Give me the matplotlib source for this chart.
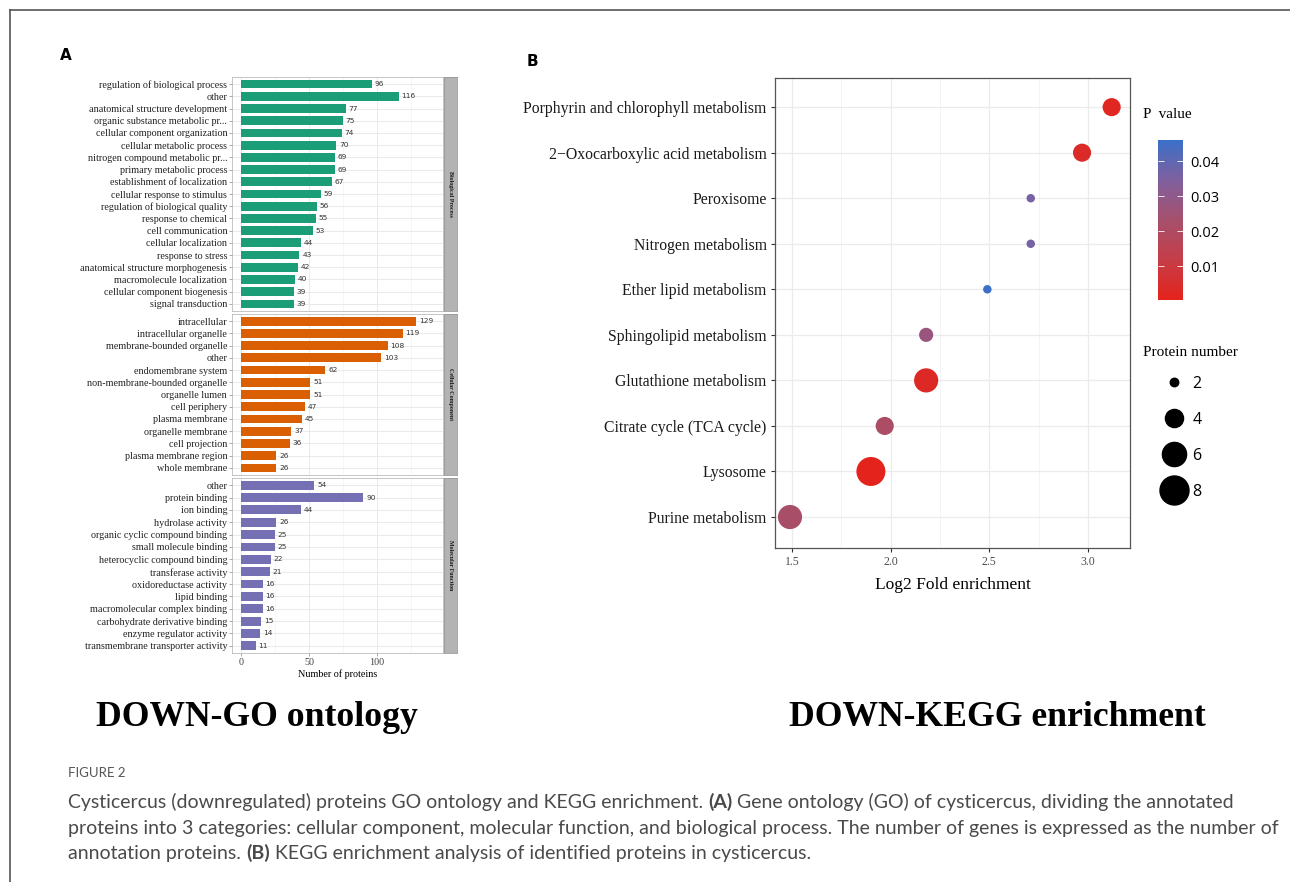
# DOWN-GO ontology bars + DOWN-KEGG enrichment bubbles
import numpy as np
import matplotlib.pyplot as plt
import matplotlib.colors as mcolors
from matplotlib.lines import Line2D

W, H = 1290, 882

# GO terms, top to bottom inside each facet
bp_terms = ["regulation of biological process", "other", "anatomical structure development",
            "organic substance metabolic pr...", "cellular component organization",
            "cellular metabolic process", "nitrogen compound metabolic pr...",
            "primary metabolic process", "establishment of localization",
            "cellular response to stimulus", "regulation of biological quality",
            "response to chemical", "cell communication", "cellular localization",
            "response to stress", "anatomical structure morphogenesis",
            "macromolecule localization", "cellular component biogenesis", "signal transduction"]
bp_counts = [96, 116, 77, 75, 74, 70, 69, 69, 67, 59, 56, 55, 53, 44, 43, 42, 40, 39, 39]

cc_terms = ["intracellular", "intracellular organelle", "membrane-bounded organelle", "other",
            "endomembrane system", "non-membrane-bounded organelle", "organelle lumen",
            "cell periphery", "plasma membrane", "organelle membrane", "cell projection",
            "plasma membrane region", "whole membrane"]
cc_counts = [129, 119, 108, 103, 62, 51, 51, 47, 45, 37, 36, 26, 26]

mf_terms = ["other", "protein binding", "ion binding", "hydrolase activity",
            "organic cyclic compound binding", "small molecule binding",
            "heterocyclic compound binding", "transferase activity", "oxidoreductase activity",
            "lipid binding", "macromolecular complex binding", "carbohydrate derivative binding",
            "enzyme regulator activity", "transmembrane transporter activity"]
mf_counts = [54, 90, 44, 26, 25, 25, 22, 21, 16, 16, 16, 15, 14, 11]

# KEGG pathways, bottom to top
kegg_terms = ["Purine metabolism", "Lysosome", "Citrate cycle (TCA cycle)",
              "Glutathione metabolism", "Sphingolipid metabolism", "Ether lipid metabolism",
              "Nitrogen metabolism", "Peroxisome", "2\u2212Oxocarboxylic acid metabolism",
              "Porphyrin and chlorophyll metabolism"]
kegg_fold = [1.49, 1.90, 1.97, 2.18, 2.18, 2.49, 2.71, 2.71, 2.97, 3.12]
kegg_p = [0.022, 0.0005, 0.021, 0.003, 0.027, 0.046, 0.036, 0.036, 0.004, 0.002]
kegg_n = [6, 8, 4, 6, 3, 2, 2, 2, 4, 4]
size_breaks = [2, 4, 6, 8]
p_ticks = [0.01, 0.02, 0.03, 0.04]

SERIF = ["Liberation Serif", "DejaVu Serif"]
SANS = ["DejaVu Sans"]


def px_axes(x0, y0, x1, y1, **kw):
    return fig.add_axes([x0 / W, 1 - y1 / H, (x1 - x0) / W, (y1 - y0) / H], **kw)


def dot_size(v):
    # ggplot style: area grows linearly with the value
    d_px = np.sqrt(72 + (np.asarray(v) - 2) / 6 * (841 - 72))
    return d_px * 0.72


fig = plt.figure(figsize=(W / 100, H / 100), dpi=100)

# ---------------- panel A ----------------
facets = [(bp_terms, bp_counts, "#1B9E77", "Biological Process", 77, 311),
          (cc_terms, cc_counts, "#D95F02", "Cellular Component", 314, 475),
          (mf_terms, mf_counts, "#7570B3", "Molecular Function", 478, 653)]

for k, (terms, counts, col, strip, top, bot) in enumerate(facets):
    ax = px_axes(232, top, 443, bot)
    y = np.arange(len(terms))
    ax.barh(y, counts, height=0.72, color=col, zorder=3)
    for yi, v in zip(y, counts):
        ax.text(v + 2, yi, str(v), va="center", ha="left", fontsize=5.3,
                family=SANS, color="#333333", zorder=4)
    ax.set_ylim(len(terms) - 1 + 0.58, -0.58)
    ax.set_xlim(-6.6, 148.5)
    ax.set_yticks(y)
    ax.set_yticklabels(terms, family=SERIF, fontsize=7.3, color="#222222")
    ax.set_xticks([0, 50, 100])
    ax.set_xticks([25, 75, 125], minor=True)
    ax.grid(which="major", color="#E6E6E6", lw=0.6)
    ax.grid(which="minor", axis="x", color="#F0F0F0", lw=0.4)
    ax.set_axisbelow(True)
    ax.tick_params(which="both", length=2, width=0.5, color="#888888", pad=1.5)
    ax.tick_params(which="minor", length=0)
    for s in ax.spines.values():
        s.set_color("#BBBBBB")
        s.set_linewidth(0.6)
    if k < 2:
        ax.tick_params(axis="x", labelbottom=False, bottom=False)
    else:
        for t in ax.get_xticklabels():
            t.set_family(SERIF)
            t.set_fontsize(7.3)
            t.set_color("#444444")
        ax.set_xlabel("Number of proteins", family=SERIF, fontsize=7.3, labelpad=2)

    sax = px_axes(444, top, 457, bot)
    sax.set_facecolor("#B3B3B3")
    sax.set_xticks([])
    sax.set_yticks([])
    for s in sax.spines.values():
        s.set_color("#999999")
        s.set_linewidth(0.6)
    sax.text(0.5, 0.5, strip, rotation=270, ha="center", va="center", fontsize=4.3,
             weight="bold", family=SERIF, color="#1A1A1A", transform=sax.transAxes)

# ---------------- panel B ----------------
cmap = mcolors.LinearSegmentedColormap.from_list(
    "pval", ["#E5231B", "#C53D48", "#A6506C", "#80609E", "#3A70C8"])
norm = mcolors.Normalize(vmin=0.0003, vmax=0.046)

axb = px_axes(775, 78, 1130, 548)
yb = np.arange(len(kegg_terms))
sc = axb.scatter(kegg_fold, yb, s=dot_size(kegg_n) ** 2, c=kegg_p, cmap=cmap, norm=norm,
                 edgecolors="none", zorder=3)
axb.set_xlim(1.414, 3.213)
axb.set_ylim(-0.68, 9.64)
axb.set_yticks(yb)
axb.set_yticklabels(kegg_terms, family=SERIF, fontsize=11.3, color="#1A1A1A")
axb.set_xticks([1.5, 2.0, 2.5, 3.0])
axb.set_xticklabels(["1.5", "2.0", "2.5", "3.0"], family=SERIF, fontsize=8.5, color="#4D4D4D")
axb.set_xticks([1.75, 2.25, 2.75], minor=True)
axb.grid(which="major", color="#EBEBEB", lw=0.9)
axb.grid(which="minor", axis="x", color="#F2F2F2", lw=0.6)
axb.set_axisbelow(True)
axb.tick_params(which="major", length=3, width=0.8, color="#333333", pad=3)
axb.tick_params(which="minor", length=0)
for s in axb.spines.values():
    s.set_color("#555555")
    s.set_linewidth(0.9)
axb.set_xlabel("Log2 Fold enrichment", family=SERIF, fontsize=12.5, labelpad=6)

# colour bar
cax = px_axes(1158, 140, 1183, 300)
cb = fig.colorbar(sc, cax=cax, ticks=p_ticks)
cb.outline.set_visible(False)
cax.tick_params(which="both", direction="in", left=True, right=True, color="white",
                length=4, width=0.6, labelsize=10.5, pad=5)
for t in cax.get_yticklabels():
    t.set_family(["Open Sans", "DejaVu Sans"])
cax.minorticks_off()
fig.text(1143 / W, 1 - 115 / H, "P  value", family=SERIF, fontsize=11, va="center", ha="left")

# size legend
fig.text(1143 / W, 1 - 352 / H, "Protein number", family=SERIF, fontsize=11, va="center", ha="left")
handles = [Line2D([], [], marker="o", ls="", color="black", markersize=dot_size(v))
           for v in size_breaks]
fig.legend(handles, [str(v) for v in size_breaks], loc="upper left",
           bbox_to_anchor=(1158 / W, 1 - 376 / H), frameon=False, borderpad=0,
           borderaxespad=0, handlelength=2, handletextpad=0.15, labelspacing=1.25,
           prop={"family": ["Open Sans", "DejaVu Sans"], "size": 11.5})

# ---------------- labels, titles, caption ----------------
fig.text(60 / W, 1 - 55 / H, "A", fontsize=11, weight="bold", family=SANS, va="center")
fig.text(527 / W, 1 - 62 / H, "B", fontsize=11, weight="bold", family=SANS, va="center")
fig.text(257 / W, 1 - 718 / H, "DOWN-GO ontology", fontsize=25.7, weight="bold",
         family=SERIF, ha="center", va="center")
fig.text(997 / W, 1 - 718 / H, "DOWN-KEGG enrichment", fontsize=25.7, weight="bold",
         family=SERIF, ha="center", va="center")

over = fig.add_axes([0, 0, 1, 1], zorder=-1)
over.axis("off")
over.set_xlim(0, 1)
over.set_ylim(0, 1)
over.add_line(Line2D([10 / W, 1], [1 - 10 / H, 1 - 10 / H], color="#555555", lw=1.2))
over.add_line(Line2D([10 / W, 10 / W], [0, 1 - 10 / H], color="#555555", lw=1.2))

CAP = ["Lato", "DejaVu Sans"]
over.text(68 / W, 1 - 773 / H, "FIGURE 2", fontsize=9.5, family=CAP, color="#555555",
          va="center", ha="left")


def caption_line(y, parts):
    prev = over.text(68 / W, 1 - y / H, parts[0][0], weight=parts[0][1], fontsize=14,
                     family=CAP, color="#4A4A4A", va="bottom", ha="left")
    for s, w in parts[1:]:
        prev = over.annotate(s, xy=(1, 0), xycoords=prev, weight=w, fontsize=14,
                             family=CAP, color="#4A4A4A", va="bottom", ha="left")


caption_line(811, [("Cysticercus (downregulated) proteins GO ontology and KEGG enrichment. ", "normal"),
                   ("(A)", "bold"),
                   (" Gene ontology (GO) of cysticercus, dividing the annotated", "normal")])
caption_line(837, [("proteins into 3 categories: cellular component, molecular function, and biological "
                    "process. The number of genes is expressed as the number of", "normal")])
caption_line(862, [("annotation proteins. ", "normal"), ("(B)", "bold"),
                   (" KEGG enrichment analysis of identified proteins in cysticercus.", "normal")])

fig.savefig("out.png", dpi=100, facecolor="white")
